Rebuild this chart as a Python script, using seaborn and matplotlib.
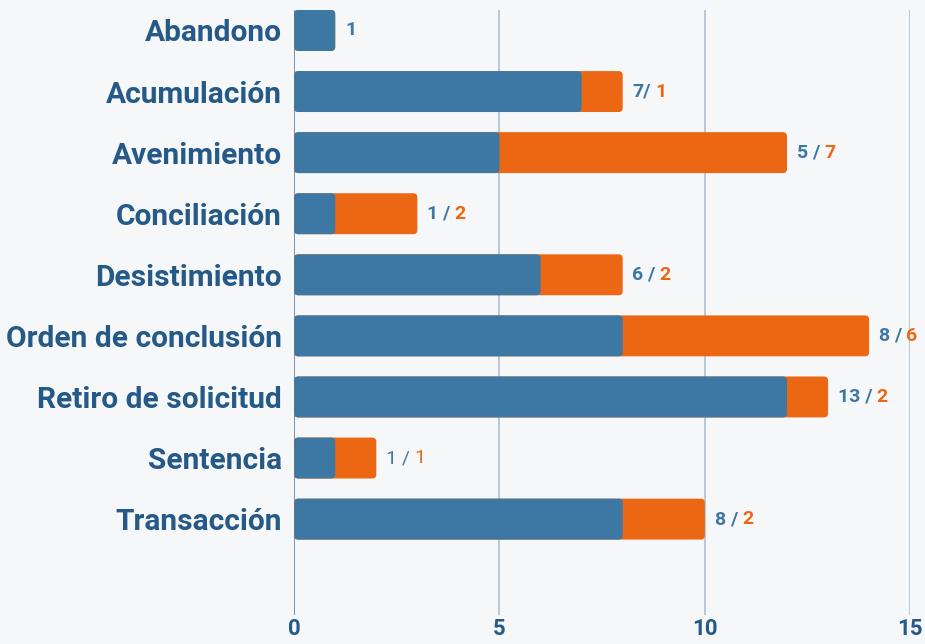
import pandas as pd
import seaborn as sns
import matplotlib.pyplot as plt
from matplotlib.patches import FancyBboxPatch

categorias = ['Abandono', 'Acumulación', 'Avenimiento', 'Conciliación', 'Desistimiento',
              'Orden de conclusión', 'Retiro de solicitud', 'Sentencia', 'Transacción']
azul = [1, 7, 5, 1, 6, 8, 12, 1, 8]
naranja = [0, 1, 7, 2, 2, 6, 1, 1, 2]
# etiquetas tal como aparecen en la imagen
txt_azul = ['1', '7/', '5 /', '1 /', '6 /', '8 /', '13 /', '1 /', '8 /']
txt_naranja = ['', '1', '7', '2', '2', '6', '2', '1', '2']
ticks = [0, 5, 10, 15]

c_azul = '#3d77a4'
c_naranja = '#ec6714'
c_texto = '#255a88'

df = pd.DataFrame({'cat': categorias, 'azul': azul, 'naranja': naranja})
df['total'] = df['azul'] + df['naranja']

sns.set_style('white')
plt.rcParams['font.family'] = ['Roboto', 'DejaVu Sans']

fig = plt.figure(figsize=(9.25, 6.44), dpi=100)
fig.patch.set_facecolor('#f6f7f8')
ax = fig.add_axes([0.318, 0.045, 0.666, 0.939])
ax.set_facecolor('none')

sns.barplot(data=df, y='cat', x='total', color=c_naranja, saturation=1, width=0.67, ax=ax, zorder=3)
sns.barplot(data=df, y='cat', x='azul', color=c_azul, saturation=1, width=0.67, ax=ax, zorder=4)

# esquinas redondeadas
for p in list(ax.patches):
    x, y, w, h = p.get_x(), p.get_y(), p.get_width(), p.get_height()
    fc, z = p.get_facecolor(), p.get_zorder()
    p.remove()
    ax.add_patch(FancyBboxPatch((x, y), w, h, boxstyle='round,pad=0,rounding_size=0.1',
                                mutation_aspect=0.67, fc=fc, ec='none', zorder=z))

ax.set_xlim(0, 15)
ax.set_ylim(9.57, -0.33)
ax.set_xticks(ticks)
ax.set_xticklabels([str(t) for t in ticks])
for t in ticks:
    ax.axvline(t, color='#4f78a0' if t == 0 else '#a8bace', lw=1.1, zorder=1)

for s in ax.spines.values():
    s.set_visible(False)
ax.set_xlabel('')
ax.set_ylabel('')
ax.tick_params(axis='y', length=0, pad=9, labelsize=21.5, labelcolor=c_texto)
ax.tick_params(axis='x', length=0, pad=2, labelsize=16, labelcolor=c_texto)
for lab in ax.get_yticklabels() + ax.get_xticklabels():
    lab.set_fontweight('bold')

for i, row in df.iterrows():
    peso = 'normal' if row['cat'] == 'Sentencia' else 'bold'
    t1 = ax.annotate(txt_azul[i], xy=(row['total'], i), xytext=(7, 0),
                     textcoords='offset points', va='center', ha='left',
                     fontsize=14, fontweight=peso, color=c_azul)
    if txt_naranja[i]:
        ax.annotate(txt_naranja[i], xy=(1, 0), xycoords=t1, xytext=(3, 0),
                    textcoords='offset points', va='bottom', ha='left',
                    fontsize=14, fontweight=peso, color=c_naranja)

fig.savefig('out.png', dpi=100, facecolor=fig.get_facecolor())
